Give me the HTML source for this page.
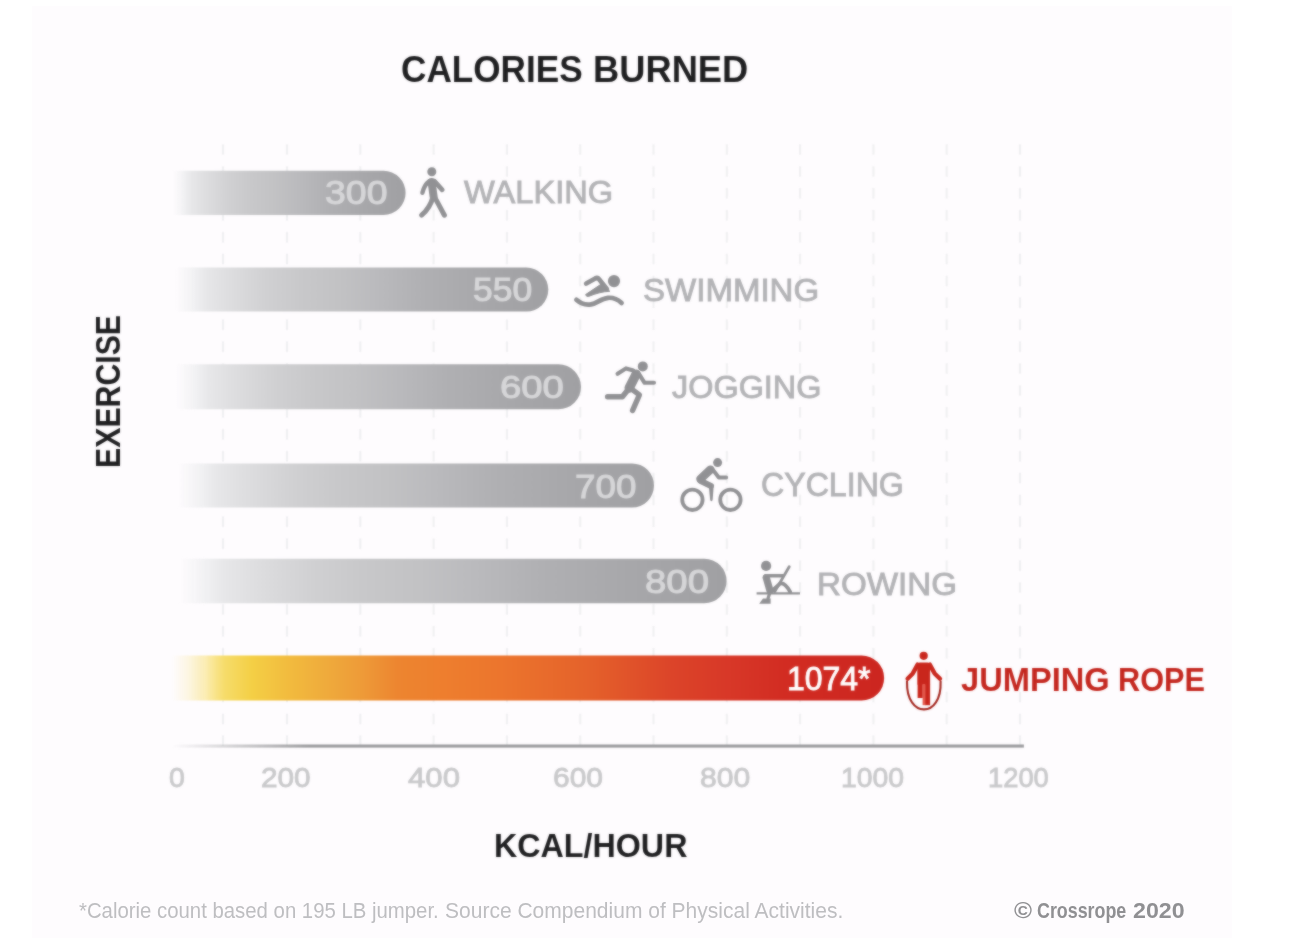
<!DOCTYPE html>
<html lang="en"><head><meta charset="utf-8"><title>Calories Burned</title>
<style>
html,body{margin:0;padding:0;background:#fff;}
body{width:1302px;height:938px;position:relative;overflow:hidden;font-family:"Liberation Sans",sans-serif;}
#panel{position:absolute;left:32px;top:6px;width:1200px;height:932px;background:#fefcfe;}
.t{position:absolute;white-space:nowrap;line-height:1;transform-origin:0 0;}
svg{position:absolute;left:0;top:0;}
#sharp{position:absolute;left:0;top:0;width:1302px;height:938px;opacity:.999;}
#wrap{position:absolute;left:0;top:0;width:1302px;height:938px;filter:url(#soft);}
</style></head><body>
<div id="panel"></div>
<svg width="0" height="0" style="position:absolute"><defs><filter id="soft" x="0" y="0" width="1" height="1" color-interpolation-filters="sRGB"><feGaussianBlur in="SourceGraphic" stdDeviation="0.85" result="b"/><feComposite in="SourceGraphic" in2="b" operator="arithmetic" k1="0" k2="0.45" k3="0.55" k4="0"/></filter></defs></svg>
<div id="wrap">

<svg width="1302" height="938" viewBox="0 0 1302 938">
<defs><linearGradient id="ax" x1="0" x2="1" y1="0" y2="0"><stop offset="0" stop-color="#9c9c9f" stop-opacity="0"/><stop offset="0.16" stop-color="#9c9c9f" stop-opacity="1"/><stop offset="1" stop-color="#9c9c9f"/></linearGradient></defs>
<g stroke="#efeff1" stroke-width="2" stroke-dasharray="10.5 11.4" fill="none">
<path d="M223.0 144.3V746"/>
<path d="M287.0 144.3V746"/>
<path d="M360.3 144.3V746"/>
<path d="M433.6 144.3V746"/>
<path d="M506.9 144.3V746"/>
<path d="M580.2 144.3V746"/>
<path d="M653.5 144.3V746"/>
<path d="M726.8 144.3V746"/>
<path d="M800.1 144.3V746"/>
<path d="M873.4 144.3V746"/>
<path d="M946.7 144.3V746"/>
<path d="M1020.0 144.3V746"/>
</g>
<rect x="172" y="744.5" width="851.9" height="3.1" fill="url(#ax)"/>
</svg>
<svg width="1302" height="938" viewBox="0 0 1302 938">
<defs>
<linearGradient id="gg" x1="0" x2="1" y1="0" y2="0"><stop offset="0.0200" stop-color="rgb(240,240,242)" stop-opacity="0"/><stop offset="0.0450" stop-color="rgb(240,240,242)" stop-opacity="0.45"/><stop offset="0.0700" stop-color="#f0f0f2"/><stop offset="0.1000" stop-color="#e7e7e9"/><stop offset="0.1500" stop-color="#dfdfe1"/><stop offset="0.2000" stop-color="#d8d8da"/><stop offset="0.2600" stop-color="#d0d0d2"/><stop offset="0.3500" stop-color="#c8c8ca"/><stop offset="0.4500" stop-color="#c2c2c4"/><stop offset="0.5500" stop-color="#bababd"/><stop offset="0.6700" stop-color="#b0b0b3"/><stop offset="0.8500" stop-color="#a6a6a9"/><stop offset="1.0000" stop-color="#a0a0a3"/></linearGradient>
<linearGradient id="jg" x1="0" x2="1" y1="0" y2="0"><stop offset="0.0056" stop-color="rgb(250,226,130)" stop-opacity="0"/><stop offset="0.0279" stop-color="rgb(250,226,130)" stop-opacity="0.22"/><stop offset="0.0531" stop-color="rgb(249,226,130)" stop-opacity="0.62"/><stop offset="0.0656" stop-color="#f9e48c"/><stop offset="0.0789" stop-color="#f6dc6a"/><stop offset="0.1173" stop-color="#f4cf45"/><stop offset="0.1689" stop-color="#f2bb3e"/><stop offset="0.2206" stop-color="#efab3c"/><stop offset="0.2723" stop-color="#ee9a38"/><stop offset="0.3211" stop-color="#ed8530"/><stop offset="0.3854" stop-color="#ee7e2e"/><stop offset="0.4650" stop-color="#ec752d"/><stop offset="0.5836" stop-color="#e5622b"/><stop offset="0.7037" stop-color="#dc4429"/><stop offset="0.7819" stop-color="#d83828"/><stop offset="0.8615" stop-color="#d22c22"/><stop offset="0.9997" stop-color="#cc2620"/></linearGradient>
</defs>
<path d="M168 170.8H383.50A22.10 22.10 0 0 1 383.50 215.0H168Z" fill="url(#gg)"/>
<path d="M168 267.6H526.30A22.00 22.00 0 0 1 526.30 311.6H168Z" fill="url(#gg)"/>
<path d="M168 364.3H558.50A22.50 22.50 0 0 1 558.50 409.3H168Z" fill="url(#gg)"/>
<path d="M168 463.4H631.90A22.10 22.10 0 0 1 631.90 507.6H168Z" fill="url(#gg)"/>
<path d="M168 558.8H704.40A22.20 22.20 0 0 1 704.40 603.2H168Z" fill="url(#gg)"/>
<path d="M168 655.4H861.60A22.60 22.60 0 0 1 861.60 700.6H168Z" fill="url(#jg)"/>
</svg>
<svg width="1302" height="938" viewBox="0 0 1302 938" fill="none" stroke-linecap="round" stroke-linejoin="round">
<g stroke="#919194" fill="#919194">
<circle cx="431.8" cy="171.8" r="4.5" stroke="none"/>
<path d="M431.6 182L433.6 196.5" stroke-width="8"/>
<path d="M429.4 181C425.8 183.6 423.6 188 422.4 192.8" stroke-width="4.4" fill="none"/>
<path d="M434.6 181.4L442.2 189.8" stroke-width="4.8"/>
<path d="M433 196.6C431 205 427 210.5 421.6 215.2" stroke-width="5" fill="none"/>
<path d="M434.4 196.6L444.4 215.2" stroke-width="5"/>
</g>
<g stroke="#919194" fill="#919194">
<circle cx="614" cy="281.1" r="6.1" stroke="none"/>
<path d="M586.2 283.5L595.2 278.5Q597.6 277.3 599.2 279.4L606.8 289" stroke-width="4.8" fill="none"/>
<path d="M600 282L609.8 291.3C603 291.5 596 293.4 588.6 296.4Q586.2 297 585.6 294.6L600.5 284.6Z" stroke-width="1"/>
<path d="M576.4 299.8C580.4 303.4 586 305.2 591 304.4C597 303.4 601 298.4 608 297.8C613 297.4 618 299.6 621.6 303" stroke-width="4.7" fill="none"/>
</g>
<g stroke="#919194" fill="none">
<circle cx="642.8" cy="366.4" r="5" stroke="none" fill="#919194"/>
<path d="M636.2 374.2L629.2 388" stroke-width="9.4"/>
<path d="M633.4 370.4L626 368.4L617.6 373.8" stroke-width="4.1"/>
<path d="M639.4 374.6L644.6 382.8H654" stroke-width="4.1"/>
<path d="M627.8 390L622.4 396.8H607.6" stroke-width="5.4"/>
<path d="M631 388.6L639.4 394.8L632.6 410.4" stroke-width="5.4"/>
</g>
<g stroke="#919194" fill="none">
<circle cx="717.6" cy="462.6" r="4.5" stroke="none" fill="#919194"/>
<circle cx="692.4" cy="499.8" r="10.2" stroke-width="3.8"/>
<circle cx="730.4" cy="499.8" r="10.2" stroke-width="3.8"/>
<path d="M710.4 469.6L700.4 479" stroke-width="8.4"/>
<path d="M713 469.8L718.8 477.5H726.2" stroke-width="3.9"/>
<path d="M700.8 481L711 486" stroke-width="6"/>
<path d="M708.8 486H713.7L712.6 500Q711.4 502.6 710.2 500Z" stroke="none" fill="#919194"/>
</g>
<g stroke="#919194" fill="none">
<circle cx="766.1" cy="565.9" r="5.1" stroke="none" fill="#919194"/>
<path d="M756.6 593.3H800" stroke-width="2.2" stroke-linecap="butt"/>
<path d="M766.2 577.6L770 590.8" stroke-width="7.2"/>
<path d="M765.4 575.7H783" stroke-width="3.5"/>
<path d="M789.2 566.8L774.8 591.6" stroke-width="2.8"/>
<path d="M771.4 591.4L780 583.6C784 582.4 787 586 790.2 592" stroke-width="3.8"/>
<path d="M769.4 594L768 598.5" stroke-width="3.2"/>
<path d="M763 598.5H770.6V603.7H759.2Z" stroke="none" fill="#919194"/>
</g>
<g stroke="#c9261c" fill="none">
<circle cx="923.7" cy="655.8" r="4.1" stroke="none" fill="#c9261c"/>
<path d="M917.3 665.2Q917.3 662.6 920 662.6H927.4Q930.1 662.6 930.1 665.2V684.5H917.3Z" stroke="none" fill="#c9261c"/>
<path d="M917.6 664.6L912.8 673.4L907.6 678.8" stroke-width="4.3"/>
<path d="M929.8 664.6L934.6 673.4L940 678.8" stroke-width="4.3"/>
<rect x="917.6" y="684" width="5.2" height="14" stroke="none" fill="#c9261c"/>
<rect x="922.6" y="684" width="3" height="21.2" stroke="none" fill="#e4574a"/>
<rect x="925.2" y="684" width="4.9" height="21.2" stroke="none" fill="#c9261c"/>
<path d="M907 681.5C906.6 700 915 709.4 924 709.4C933 709.4 941.2 700 940.6 681.5" stroke="#a3261f" stroke-width="2.1"/>
</g>
</svg>
<div id="t0" class="t " style="left:400.70px;top:51.08px;font-size:37.21px;color:#1f1f21;font-weight:bold;transform:scaleX(0.9452);">CALORIES</div>
<div id="t1" class="t " style="left:592.73px;top:51.08px;font-size:37.21px;color:#1f1f21;font-weight:bold;transform:scaleX(0.9758);">BURNED</div>
<div class="t" style="left:0;top:0;font-size:34.74px;color:#1f1f21;font-weight:bold;transform:translate(91.18px,467.89px) rotate(-90deg) scaleX(0.8703);">EXERCISE</div>
<div id="t2" class="t " style="left:494.18px;top:829.06px;font-size:33.58px;color:#1f1f21;font-weight:bold;transform:scaleX(0.9602);">KCAL/HOUR</div>
<div id="t3" class="t " style="left:324.73px;top:176.04px;font-size:33.95px;color:#d6d6d8;-webkit-text-stroke:1.0px #d6d6d8;transform:scaleX(1.1033);">300</div>
<div id="t4" class="t " style="left:463.65px;top:177.26px;font-size:31.69px;color:#b3b3b6;-webkit-text-stroke:0.9px #b3b3b6;transform:scaleX(1.0288);">WALKING</div>
<div id="t5" class="t " style="left:473.39px;top:273.61px;font-size:32.81px;color:#d6d6d8;-webkit-text-stroke:1.0px #d6d6d8;transform:scaleX(1.0832);">550</div>
<div id="t6" class="t " style="left:642.92px;top:273.94px;font-size:32.12px;color:#b3b3b6;-webkit-text-stroke:0.9px #b3b3b6;transform:scaleX(1.0287);">SWIMMING</div>
<div id="t7" class="t " style="left:500.21px;top:371.74px;font-size:31.95px;color:#d6d6d8;-webkit-text-stroke:1.0px #d6d6d8;transform:scaleX(1.1978);">600</div>
<div id="t8" class="t " style="left:671.94px;top:370.89px;font-size:32.12px;color:#b3b3b6;-webkit-text-stroke:0.9px #b3b3b6;transform:scaleX(1.0095);">JOGGING</div>
<div id="t9" class="t " style="left:574.87px;top:469.56px;font-size:33.81px;color:#d6d6d8;-webkit-text-stroke:1.0px #d6d6d8;transform:scaleX(1.0910);">700</div>
<div id="t10" class="t " style="left:760.94px;top:467.91px;font-size:33.58px;color:#b3b3b6;-webkit-text-stroke:0.9px #b3b3b6;transform:scaleX(0.9568);">CYCLING</div>
<div id="t11" class="t " style="left:645.40px;top:564.84px;font-size:33.95px;color:#d6d6d8;-webkit-text-stroke:1.0px #d6d6d8;transform:scaleX(1.1307);">800</div>
<div id="t12" class="t " style="left:816.86px;top:568.51px;font-size:31.40px;color:#b3b3b6;-webkit-text-stroke:0.9px #b3b3b6;transform:scaleX(1.0560);">ROWING</div>
<div id="t13" class="t " style="left:787.05px;top:661.92px;font-size:33.09px;color:#fff;-webkit-text-stroke:0.9px #fff;transform:scaleX(0.9659);">1074*</div>
<div id="t14" class="t " style="left:961.20px;top:664.22px;font-size:32.56px;color:#c4271f;font-weight:bold;transform:scaleX(1.0026);">JUMPING</div>
<div id="t15" class="t " style="left:1118.08px;top:664.22px;font-size:32.56px;color:#c4271f;font-weight:bold;transform:scaleX(0.9421);">ROPE</div>
<div id="t16" class="t " style="left:168.51px;top:764.91px;font-size:26.79px;color:#c9c9cb;-webkit-text-stroke:0.8px #c9c9cb;transform:scaleX(1.0601);">0</div>
<div id="t17" class="t " style="left:261.41px;top:764.91px;font-size:26.79px;color:#c9c9cb;-webkit-text-stroke:0.8px #c9c9cb;transform:scaleX(1.1104);">200</div>
<div id="t18" class="t " style="left:407.51px;top:764.91px;font-size:26.79px;color:#c9c9cb;-webkit-text-stroke:0.8px #c9c9cb;transform:scaleX(1.1625);">400</div>
<div id="t19" class="t " style="left:553.09px;top:764.91px;font-size:26.79px;color:#c9c9cb;-webkit-text-stroke:0.8px #c9c9cb;transform:scaleX(1.1198);">600</div>
<div id="t20" class="t " style="left:700.06px;top:764.91px;font-size:26.79px;color:#c9c9cb;-webkit-text-stroke:0.8px #c9c9cb;transform:scaleX(1.1251);">800</div>
<div id="t21" class="t " style="left:840.53px;top:764.91px;font-size:26.79px;color:#c9c9cb;-webkit-text-stroke:0.8px #c9c9cb;transform:scaleX(1.0584);">1000</div>
<div id="t22" class="t " style="left:988.09px;top:764.91px;font-size:26.79px;color:#c9c9cb;-webkit-text-stroke:0.8px #c9c9cb;transform:scaleX(1.0200);">1200</div>
</div>
<div id="sharp">
<div id="t23" class="t " style="left:78.98px;top:900.73px;font-size:21.37px;color:#bebec1;transform:scaleX(0.9527);">*Calorie count based on 195 LB jumper.</div>
<div id="t24" class="t " style="left:444.84px;top:900.70px;font-size:21.37px;color:#bebec1;transform:scaleX(0.9838);">Source Compendium of Physical Activities.</div>
<div id="t25" class="t " style="left:1013.62px;top:900.13px;font-size:21.80px;color:#909093;font-weight:bold;transform:scaleX(1.1231);">©</div>
<div id="t26" class="t " style="left:1037.24px;top:900.13px;font-size:21.80px;color:#909093;font-weight:bold;transform:scaleX(0.8190);">Crossrope</div>
<div id="t27" class="t " style="left:1132.68px;top:901.20px;font-size:21.49px;color:#909093;font-weight:bold;transform:scaleX(1.0786);">2020</div>
</div>
</body></html>
